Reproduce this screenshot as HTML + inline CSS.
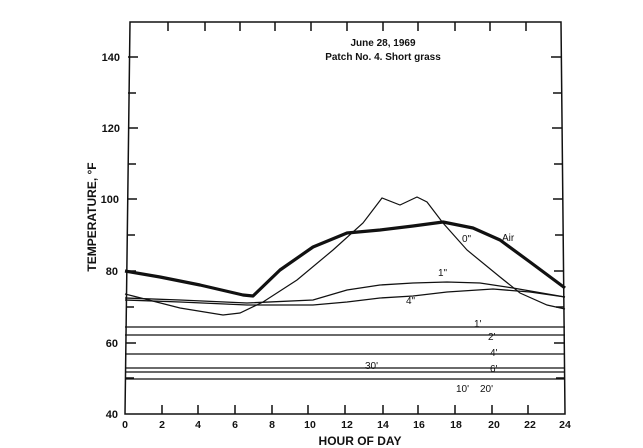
<!DOCTYPE html>
<html><head><style>body{margin:0;background:#fff}svg{display:block}</style></head><body>
<svg width="643" height="448" viewBox="0 0 643 448" xmlns="http://www.w3.org/2000/svg" font-family="Liberation Sans, sans-serif" fill="none" stroke="#111">
<rect width="643" height="448" fill="#fff" stroke="none"/>
<polygon points="130,22 561,22 565,414 125,414" stroke-width="1.5"/>
<g stroke-width="1.5">
<path d="M128,57h10M128,93h8M128,128h10M128,164h8M127,199h10M127,235h8M126,271h10M126,307h8M126,343h10M126,378h8"/>
<path d="M561,57h-10M561,93h-8M562,128h-10M562,164h-8M563,199h-10M563,235h-8M564,271h-10M564,307h-8M564,343h-10M564,378h-8"/>
<path d="M168,22v9M205,22v9M240,22v9M275,22v9M311,22v9M347,22v9M383,22v9M418,22v9M455,22v9M490,22v9M526,22v9"/>
<path d="M162,414v-9M198,414v-9M235,414v-9M272,414v-9M308,414v-9M345,414v-9M383,414v-9M418,414v-9M455,414v-9M492,414v-9M528,414v-9"/>
</g>
<g stroke-width="1.2">
<path d="M125,327H565M125,335H565M125,354H565M125,368H565M125,372H565M125,379H565"/>
</g>
<path d="M125,271 L160,277 L200,285 L243,295 L253,296 L280,270 L313,247 L347,233 L380,230 L413,226 L443,222 L473,228 L500,240 L530,262 L565,288" stroke-width="3.2" stroke-linejoin="round"/>
<path d="M125,294 L133,296 L180,308 L223,315 L240,313 L263,302 L297,280 L333,250 L363,223 L382,198 L400,205 L417,197 L427,202 L443,223 L467,250 L500,277 L520,293 L547,305 L565,309" stroke-width="1.2"/>
<path d="M125,298 L180,300 L247,303 L313,300 L347,290 L380,285 L413,283 L447,282 L480,283 L513,288 L565,297" stroke-width="1.3"/>
<path d="M125,300 L180,302 L247,305 L313,305 L347,302 L380,298 L413,296 L447,292 L493,289 L530,292 L565,297" stroke-width="1.3"/>
<g fill="#111" stroke="none" font-size="11" font-weight="bold">
<text x="383" y="46" text-anchor="middle" font-size="10">June 28, 1969</text>
<text x="383" y="60" text-anchor="middle" font-size="10">Patch No. 4. Short grass</text>
<g text-anchor="end"><text x="120" y="61">140</text><text x="120" y="132">120</text><text x="119" y="203">100</text><text x="118" y="275">80</text><text x="118" y="347">60</text><text x="118" y="418">40</text></g>
<g text-anchor="middle" font-size="10.5"><text x="125" y="428">0</text><text x="162" y="428">2</text><text x="198" y="428">4</text><text x="235" y="428">6</text><text x="272" y="428">8</text><text x="310" y="428">10</text><text x="347" y="428">12</text><text x="383" y="428">14</text><text x="419" y="428">16</text><text x="456" y="428">18</text><text x="494" y="428">20</text><text x="530" y="428">22</text><text x="565" y="428">24</text></g>
<text x="360" y="445" text-anchor="middle" font-size="12">HOUR  OF  DAY</text>
<text transform="translate(96,217) rotate(-90)" text-anchor="middle" font-size="12">TEMPERATURE, °F</text>
<g font-size="10" font-weight="normal"><text x="462" y="242">0"</text><text x="502" y="241">Air</text><text x="438" y="276">1"</text><text x="406" y="304">4"</text><text x="474" y="327">1'</text><text x="488" y="340">2'</text><text x="490" y="356">4'</text><text x="365" y="369">30'</text><text x="490" y="372">6'</text><text x="456" y="392">10'</text><text x="480" y="392">20'</text></g>
</g>
</svg>
</body></html>
